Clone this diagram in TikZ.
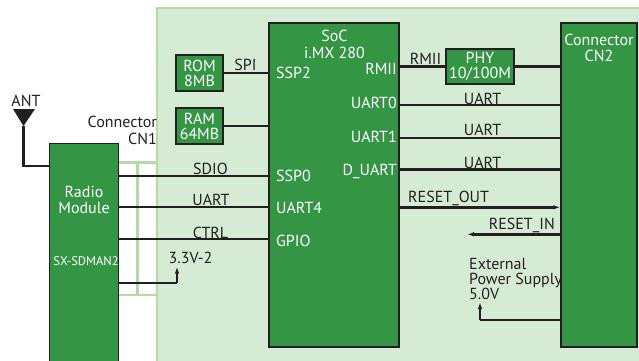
\documentclass[tikz,border=0pt]{standalone}
\usepackage{fontspec}
\setmainfont{PT Sans}
\usetikzlibrary{calc}
\usetikzlibrary{arrows.meta}
\definecolor{socgreen}{RGB}{52,150,68}
\definecolor{board}{RGB}{214,235,212}
\definecolor{boardedge}{RGB}{180,219,165}
\definecolor{ink}{RGB}{35,31,32}

\begin{document}
\begin{tikzpicture}[
		x=1pt,y=-1pt,
		>={Latex[length=7pt,width=4.5pt]},
		chip/.style={draw=ink,line width=1.3pt,fill=socgreen,text=white,inner sep=0pt,align=center,font=\fontsize{16}{16}\selectfont},
		sig/.style={draw=ink,line width=2.6pt},
		tap/.style={draw=ink,line width=1.4pt,->},
		lbl/.style={text=ink,inner sep=0pt,font=\fontsize{16}{16}\selectfont},
		port/.style={text=white,inner sep=0pt,font=\fontsize{16}{16}\selectfont},
		cn/.style={draw=boardedge,line width=2.5pt},
	]
	\useasboundingbox (0,0) rectangle (639,360);
	\draw[cn,fill=board] (157,8) rectangle (660,380);
	\draw[cn] (118,162.5) rectangle (157,295);
	\draw[cn] (137.5,162.5) -- (137.5,295);
	\node[chip,minimum width=69pt,minimum height=230pt,anchor=north west] (radio) at (49,143) {};
	\node[chip,minimum width=130pt,minimum height=324pt] (soc) at (334,185) {};
	\node[chip,minimum width=76pt,minimum height=324pt] (cn2) at (599,185) {};
	\node[chip,minimum width=47pt,minimum height=36pt,font=\fontsize{16}{15}\selectfont] (rom) at (199.5,73) {ROM\\8MB};
	\node[chip,minimum width=47pt,minimum height=36pt,font=\fontsize{16}{15}\selectfont] (ram) at (199.5,126) {RAM\\64MB};
	\node[chip,minimum width=68pt,minimum height=35pt,font=\fontsize{16}{14.5}\selectfont] (phy) at (480,66.5) {PHY\\10/100M};
	\node[port,align=center] (radiotxt) at (84,199.5) {Radio\\Module};
	\node[port,font=\fontsize{12.5}{12}\selectfont] (radiopn) at (86,261.5) {SX-SDMAN2};
	\node[port,align=center,font=\fontsize{16}{17}\selectfont] (soctxt) at (334.5,44) {SoC\\i.MX 280};
	\node[port,align=center,font=\fontsize{16}{16.5}\selectfont] (cn2txt) at (599,47.75) {Connector\\CN2};
	\node[port,anchor=west] (ssp2) at (276,73) {SSP2};
	\node[port,anchor=west] (ssp0) at (276,175.5) {SSP0};
	\node[port,anchor=west] (uart4) at (276,207.5) {UART4};
	\node[port,anchor=west] (gpio) at (276,241) {GPIO};
	\node[port,anchor=east] (rmii) at (397,69) {RMII};
	\node[port,anchor=east] (uart0) at (397,102.5) {UART0};
	\node[port,anchor=east] (uart1) at (397,137) {UART1};
	\node[port,anchor=east] (duart) at (397,171) {D\_UART};
	\coordinate (anttip) at (23.5,126);
	\fill[ink] (13,109) -- (35,109) -- (anttip) -- cycle;
	\draw[sig] (anttip) |- (radio.west |- 0,166);
	\node[lbl] (ant) at (26,100.5) {ANT};
	\node[lbl,align=right,anchor=east,font=\fontsize{16}{17}\selectfont] (cn1txt) at (157,130) {Connector\\CN1};
	\draw[sig] (rom.east) -- (rom.east -| soc.west);
	\draw[sig] (ram.east) -- (ram.east -| soc.west);
	\node[lbl] (spi) at (245.5,65) {SPI};
	\draw[sig] (radio.east |- 0,176) -- (soc.west |- 0,176);
	\draw[sig] (radio.east |- 0,207) -- (soc.west |- 0,207);
	\draw[sig] (radio.east |- 0,239) -- (soc.west |- 0,239);
	\node[lbl] (sdio) at (210.5,168.5) {SDIO};
	\node[lbl] (uartl) at (211,200) {UART};
	\node[lbl] (ctrl) at (210.5,232.5) {CTRL};
	\draw[sig] (radio.east |- 0,283) -- (177,283) coordinate (vin);
	\draw[tap] (vin) -- (177,266.5);
	\node[lbl] (v33) at (190.5,257.5) {3.3V-2};
	\draw[sig] (soc.east |- phy.west) -- (phy.west);
	\draw[sig] (phy.east) -- (phy.east -| cn2.west);
	\node[lbl] (rmiil) at (425.5,58.5) {RMII};
	\draw[sig] (soc.east |- 0,105) -- (cn2.west |- 0,105);
	\draw[sig] (soc.east |- 0,138) -- (cn2.west |- 0,138);
	\draw[sig] (soc.east |- 0,169.5) -- (cn2.west |- 0,169.5);
	\node[lbl] (uarta) at (482.5,98.5) {UART};
	\node[lbl] (uartb) at (482.5,130) {UART};
	\node[lbl] (uartc) at (482.5,162.5) {UART};
	\draw[sig,->] (soc.east |- 0,207.3) -- (cn2.west |- 0,207.3);
	\node[lbl,anchor=west] (rstout) at (408,198.5) {RESET\_OUT};
	\draw[sig,->] (cn2.west |- 0,234.3) -- (467,234.3);
	\node[lbl,anchor=east] (rstin) at (555,225.5) {RESET\_IN};
	\draw[sig] (cn2.west |- 0,320) -- (480,320) coordinate (vext);
	\draw[tap] (vext) -- (480,302);
	\node[lbl,align=left,anchor=west,font=\fontsize{16}{15}\selectfont] (ext) at (469,279) {External\\Power Supply\\5.0V};
\end{tikzpicture}
\end{document}
